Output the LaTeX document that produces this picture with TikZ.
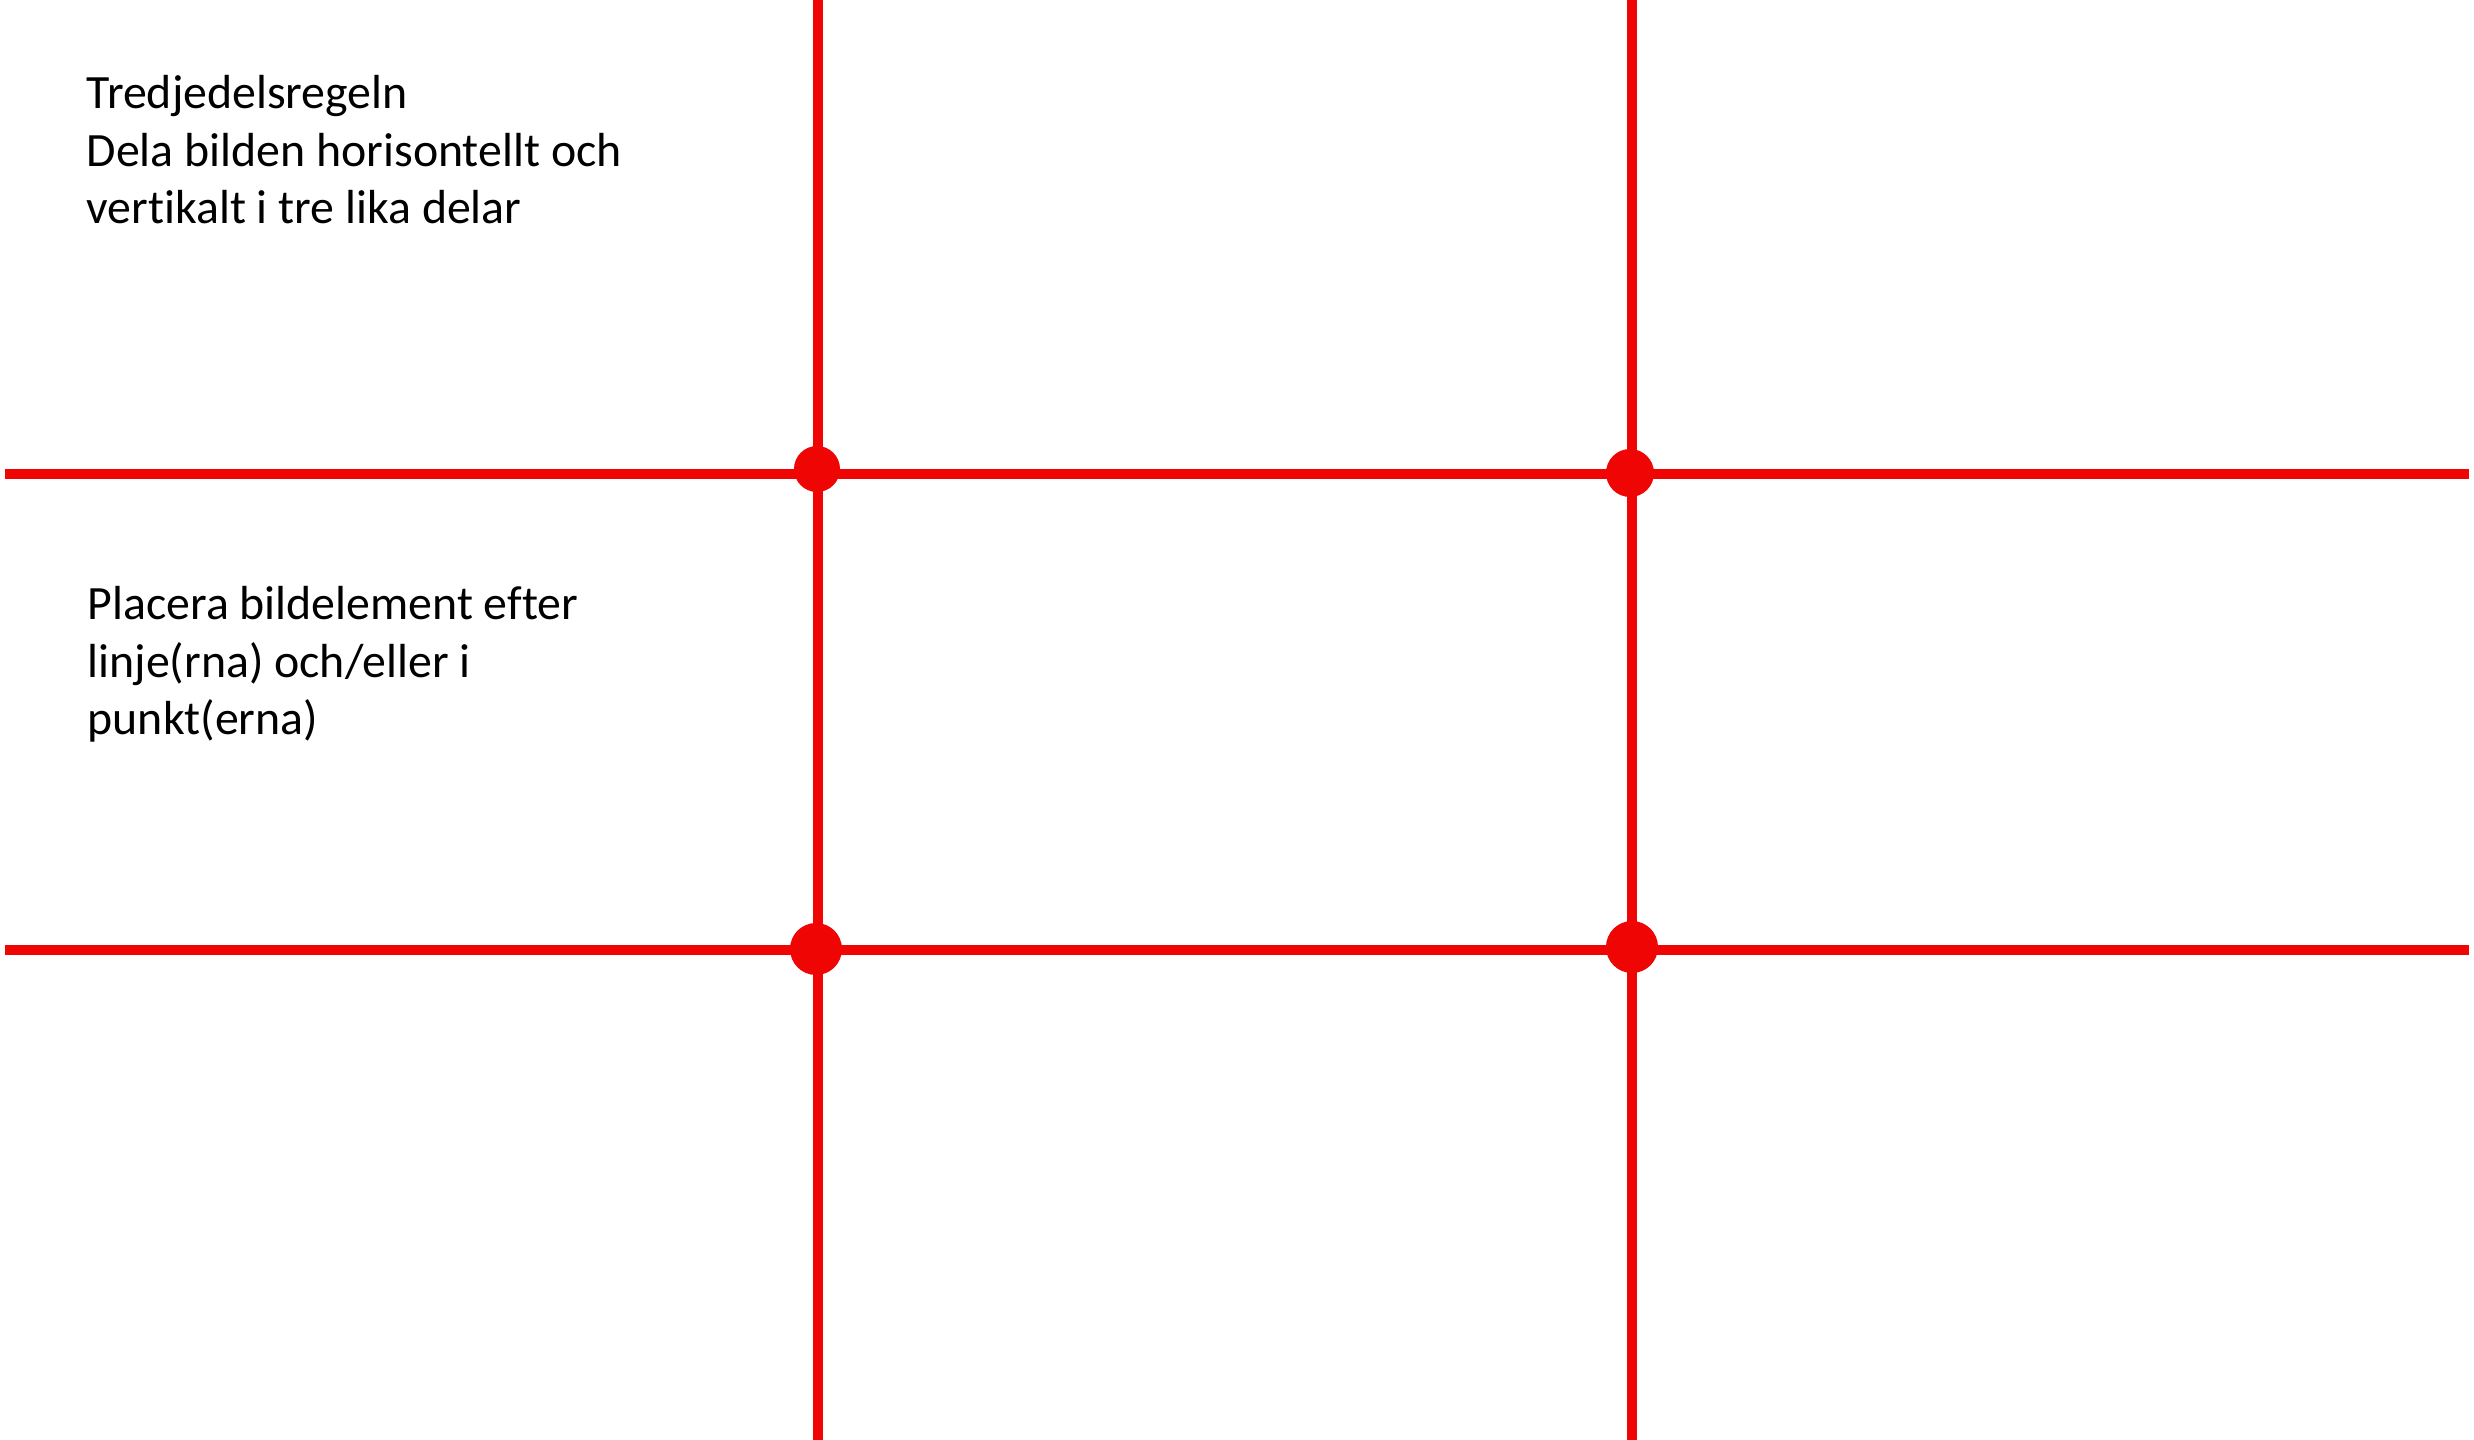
\documentclass[tikz,border=0pt]{standalone}
\usepackage{fontspec}
\setmainfont{Carlito}[Ligatures=NoCommon]
\usetikzlibrary{positioning}
\definecolor{gridred}{HTML}{F00505}

\begin{document}
\begin{tikzpicture}[x=0.01cm, y=-0.01cm, font=\fontsize{13.6}{16.4}\selectfont]
	\useasboundingbox (0,0) rectangle (2474,1440);
	\coordinate (ttop) at (818,0);
	\coordinate (tbot) at (818,1440);
	\coordinate (ttop2) at (1632,0);
	\coordinate (tbot2) at (1632,1440);
	\coordinate (hl1) at (5,474);
	\coordinate (hr1) at (2469,474);
	\coordinate (hl2) at (5,950);
	\coordinate (hr2) at (2469,950);
	\draw[gridred, line width=2.85pt] (ttop) -- (tbot);
	\draw[gridred, line width=2.85pt] (ttop2) -- (tbot2);
	\draw[gridred, line width=2.85pt] (hl1) -- (hr1);
	\draw[gridred, line width=2.85pt] (hl2) -- (hr2);
	\node[circle, fill=gridred, inner sep=0pt, minimum size=0.46cm] (p1) at (817,469) {};
	\node[circle, fill=gridred, inner sep=0pt, minimum size=0.48cm] (p2) at (1630,473) {};
	\node[circle, fill=gridred, inner sep=0pt, minimum size=0.52cm] (p3) at (816,949) {};
	\node[circle, fill=gridred, inner sep=0pt, minimum size=0.52cm] (p4) at (1632,947) {};
	\node[anchor=base west, inner sep=0pt, align=left] (rule) at (86,224) {Tredjedelsregeln\\Dela bilden horisontellt och\\vertikalt i tre lika delar};
	\node[anchor=base west, inner sep=0pt, align=left] (place) at (87,735) {Placera bildelement efter\\linje(rna) och/eller i\\punkt(erna)};
\end{tikzpicture}
\end{document}
